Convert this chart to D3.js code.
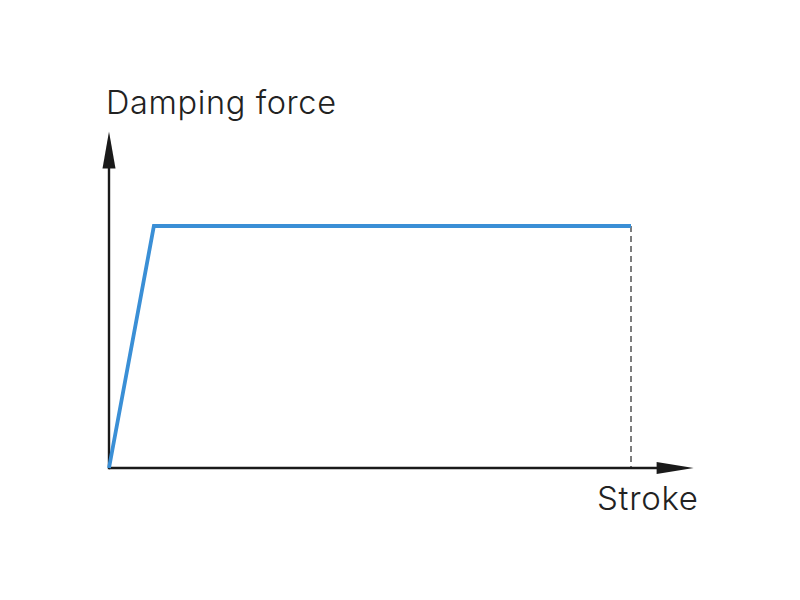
<!DOCTYPE html>
<html>
<head>
<meta charset="utf-8">
<script src="https://cdn.jsdelivr.net/npm/d3@7"></script>
<style>
  body { margin: 0; background: #fff; }
  svg { display: block; }
</style>
</head>
<body>
<svg id="chart"></svg>
<script>
// curve points (stroke in %, force in %)
const strokeValues = [0, 8.6, 100];
const forceValues = [0, 100, 100];
const axisLabels = ["Stroke", "Damping force"];
const axisMax = [112, 139]; // where the arrow tips end

const w = 800, h = 600;
const svg = d3.select('#chart').attr('width', w).attr('height', h);

const x_scale = d3.scaleLinear().domain([0, 100]).range([109, 631]);
const y_scale = d3.scaleLinear().domain([0, 100]).range([468, 226]);

const points = strokeValues.map((s, i) => ({ s: s, f: forceValues[i] }));
const last = points[points.length - 1];

// dashed drop line at end of stroke
svg.append('line')
  .attr('x1', x_scale(last.s)).attr('x2', x_scale(last.s))
  .attr('y1', y_scale(last.f)).attr('y2', y_scale(0))
  .attr('stroke', '#7d7d7d')
  .attr('stroke-width', 2)
  .attr('stroke-dasharray', '6,4');

// axes
const axisColor = '#1a1a1a';
svg.append('line')
  .attr('x1', x_scale(0)).attr('x2', x_scale(axisMax[0]) - 30)
  .attr('y1', y_scale(0)).attr('y2', y_scale(0))
  .attr('stroke', axisColor).attr('stroke-width', 2.4);
svg.append('line')
  .attr('x1', x_scale(0)).attr('x2', x_scale(0))
  .attr('y1', y_scale(0) + 1.2).attr('y2', y_scale(axisMax[1]) + 30)
  .attr('stroke', axisColor).attr('stroke-width', 2.4);

// arrow heads
const xt = x_scale(axisMax[0]), yt = y_scale(0);
svg.append('path')
  .attr('d', `M${xt},${yt} L${xt - 37},${yt - 6} L${xt - 37},${yt + 6} Z`)
  .attr('fill', axisColor);
const xv = x_scale(0), ytip = y_scale(axisMax[1]);
svg.append('path')
  .attr('d', `M${xv},${ytip} L${xv - 6.5},${ytip + 37} L${xv + 6.5},${ytip + 37} Z`)
  .attr('fill', axisColor);

// force curve
const lineGen = d3.line()
  .x(d => x_scale(d.s))
  .y(d => y_scale(d.f));

svg.append('path')
  .datum(points)
  .attr('d', lineGen)
  .attr('fill', 'none')
  .attr('stroke', '#3a8fd6')
  .attr('stroke-width', 3.8)
  .attr('stroke-linejoin', 'miter');

// labels
svg.append('text')
  .attr('x', 106).attr('y', 114)
  .attr('font-family', 'Inter, sans-serif')
  .attr('font-weight', 300)
  .attr('font-size', 32.5)
  .attr('textLength', 230)
  .attr('fill', '#222')
  .text(axisLabels[1]);

svg.append('text')
  .attr('x', 597).attr('y', 509.5)
  .attr('font-family', 'Inter, sans-serif')
  .attr('font-weight', 300)
  .attr('font-size', 33)
  .attr('textLength', 101)
  .attr('fill', '#222')
  .text(axisLabels[0]);
</script>
</body>
</html>
